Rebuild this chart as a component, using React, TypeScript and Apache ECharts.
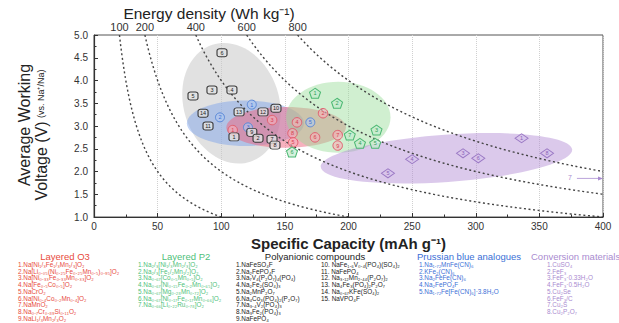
import React, { useEffect, useRef } from 'react';
import * as echarts from 'echarts';

// iso-energy guide levels (Wh/kg)
const energyLevels = [100, 200, 400, 600, 800];

// shaded regions
const regionColors = ['rgba(200,200,200,0.55)', 'rgba(120,160,235,0.45)', 'rgba(240,100,125,0.5)', 'rgba(150,220,150,0.45)', 'rgba(175,135,210,0.45)'];
const regionC = [108, 119, 151, 192, 277];
const regionV = [3.5, 3.06, 2.97, 3.19, 2.29];
const regionHalfC = [37.5, 46, 47, 41, 99];
const regionHalfV = [1.35, 0.5, 0.45, 0.78, 0.52];
const regionTilt = [18, 0, 0, 0, 4];

// Polyanionic compounds
const polyLabels = ['6', '3', '4', '5', '14', '11', '13', '12', '10', '1', '9', '2', '7', '8'];
const polyC = [100.6, 92.7, 108.4, 77.8, 85.7, 89.6, 114, 132.8, 143, 110, 124, 128.9, 139.9, 142.2];
const polyV = [4.61, 3.79, 3.79, 3.66, 3.28, 3.0, 3.31, 3.31, 3.39, 2.76, 2.86, 2.73, 2.71, 2.58];

// Prussian blue analogues
const pbLabels = ['2', '1', '3', '5'];
const pbC = [99, 124, 121, 170];
const pbV = [3.19, 3.47, 2.97, 3.08];

// Layered O3
const o3Labels = ['1', '3', '4', '2', '8', '6', '7', '5', '9'];
const o3C = [109, 140, 159.5, 180, 156, 173.7, 191.5, 156.5, 191.5];
const o3V = [2.91, 3.13, 3.08, 3.28, 2.84, 2.75, 2.8, 2.64, 2.57];

// Layered P2
const p2Labels = ['1', '2', '3', '4', '5', '6', '7'];
const p2C = [173.7, 191, 222, 209, 221, 155.6, 201];
const p2V = [3.72, 3.5, 2.91, 2.62, 2.62, 2.43, 2.8];

// Conversion materials
const convLabels = ['1', '3', '6', '4', '5', '8'];
const convC = [336, 290, 302, 250, 231, 356];
const convV = [2.73, 2.4, 2.29, 2.27, 1.96, 2.4];
const offChartLabel = ['7'];
const offChartC = [374];
const offChartV = [1.87];

// legend text
const o3Items = ['1.Na[Ni₁/₃Fe₁/₃Mn₁/₃]O₂', '2.Na[Li₀.₀₅(Ni₀.₂₅Fe₀.₂₅Mn₀.₅)₀.₉₅]O₂', '3.Na[Ni₀.₃₃Fe₀.₃₃Mn₀.₃₃]O₂', '4.Na[Fe₀.₅Co₀.₅]O₂', '5.NaCrO₂', '6.Na[Ni₀.₄Co₀.₂Mn₀.₄]O₂', '7.NaMnO₂', '8.Na₀.₇Cr₀.₈₉Si₀.₁₁O₂', '9.NaLi₁/₃Mn₂/₃O₂'];
const p2Items = ['1.Na₂/₃[Ni₁/₃Mn₂/₃]O₂', '2.Na₂/₃[Fe₁/₂Mn₁/₂]O₂', '3.Na₀.₆₇[Co₀.₅Mn₀.₅]O₂', '4.Na₀.₆₇[Ni₀.₁₅Fe₀.₂Mn₀.₆₅]O₂', '5.Na₀.₆₇[Mg₀.₂₈Mn₀.₇₂]O₂', '6.Na₀.₆₇[Ni₀.₁₇Fe₀.₁₇Mn₀.₆₆]O₂', '7.Na₀.₆₆[Li₀.₂₂Ru₀.₇₈]O₂'];
const polyItemsA = ['1.NaFeSO₄F', '2.Na₂FePO₄F', '3.Na₇V₄(P₂O₇)₄(PO₄)', '4.Na₂Fe₂(SO₄)₃', '5.Na₂MnP₂O₇', '6.Na₄Co₃(PO₄)₂(P₂O₇)', '7.Na₃.₄V₂(PO₄)₃', '8.Na₃Fe₂(PO₄)₃', '9.NaFePO₄'];
const polyItemsB = ['10. NaFe₁.₆V₀.₄(PO₄)(SO₄)₂', '11. NaFePO₄', '12. Na₃.₁₂Mn₂.₄₄(P₂O₇)₂', '13. Na₄Fe₃(PO₄)₂P₂O₇', '14. Na₀.₆₇KFe(SO₄)₂', '15. NaVPO₄F'];
const pbItems = ['1.Na₁.₇₂MnFe(CN)₆', '2.KFe₂(CN)₆', '3.Na₂FeFe(CN)₆', '4.Na₂FePO₄F', '5.Na₁.₇₂Fe[Fe(CN)₆]·3.8H₂O'];
const convItems = ['1.CuSO₄', '2.FeF₃', '3.FeF₃·0.33H₂O', '4.FeF₃·0.5H₂O', '5.Cu₂Se', '6.FeF₃/C', '7.Cu₂S', '8.Cu₂P₂O₇'];

const FONT = 'Liberation Sans, Arial, sans-serif';
const NARROW = 'Liberation Sans Narrow, Arial Narrow, Liberation Sans, sans-serif';
const PENTAGON = 'path://M10,0 L19.5,6.9 L15.9,18 L4.1,18 L0.5,6.9 Z';

function scatter(labels: string[], cs: number[], vs: number[], symbol: string, size: any, fill: string, border: string, text: string, z: number) {
  return {
    type: 'scatter',
    data: cs.map((c, i) => [c, vs[i], labels[i]]),
    symbol,
    symbolSize: size,
    itemStyle: { color: fill, borderColor: border, borderWidth: 1, opacity: 1 },
    label: { show: true, position: 'inside', formatter: (p: any) => p.data[2], fontSize: 5.5, color: text, fontFamily: FONT },
    z,
    silent: true,
  };
}

function legendColumn(items: string[], x: number, y0: number, color: string) {
  return items.map((t, i) => ({
    type: 'text',
    x,
    y: y0 + i * 6.7,
    silent: true,
    style: { text: t, fill: color, fontSize: 6.4, fontFamily: FONT, align: 'left', verticalAlign: 'middle' },
  }));
}

function header(text: string, x: number, align: string, color: string) {
  return {
    type: 'text', x, y: 256, silent: true,
    style: { text, fill: color, fontSize: 9.5, fontFamily: FONT, align, verticalAlign: 'middle' },
  };
}

export default function App() {
  const ref = useRef<HTMLDivElement>(null);
  useEffect(() => {
    const chart = echarts.init(ref.current!, null, { renderer: 'svg' });
    const option: any = {
      animation: false,
      backgroundColor: '#ffffff',
      grid: { left: 94, right: 16, top: 35, bottom: 106, show: true, borderColor: '#555', borderWidth: 1, backgroundColor: 'transparent' },
      xAxis: [
        {
          type: 'value', min: 0, max: 400, interval: 50, position: 'bottom',
          axisLine: { show: true, lineStyle: { color: '#333', width: 1.2 } },
          axisTick: { inside: true, length: 4, lineStyle: { color: '#333' } },
          minorTick: { show: true, splitNumber: 2, length: 2.5, lineStyle: { color: '#333' } },
          splitLine: { show: true, lineStyle: { color: '#d0d0d0', type: 'dotted', width: 1 } },
          axisLabel: { fontSize: 10, color: '#333', fontFamily: FONT, margin: 4 },
          name: 'Specific Capacity (mAh g⁻¹)', nameLocation: 'middle', nameGap: 14,
          nameTextStyle: { fontSize: 15, fontWeight: 'bold', color: '#222', fontFamily: FONT },
        },
        {
          type: 'value', min: 0, max: 400, interval: 20, position: 'top',
          axisLine: { show: false }, axisTick: { show: false }, splitLine: { show: false },
          axisLabel: { fontSize: 11, color: '#333', fontFamily: FONT, margin: 3,
            formatter: (v: number) => (energyLevels.includes(Math.round(v * 5)) ? String(Math.round(v * 5)) : '') },
        },
      ],
      yAxis: {
        type: 'value', min: 1, max: 5, interval: 0.5,
        axisLine: { show: true, lineStyle: { color: '#333', width: 1.2 } },
        axisTick: { inside: true, length: 4, lineStyle: { color: '#333' } },
        minorTick: { show: true, splitNumber: 2, length: 2.5, lineStyle: { color: '#333' } },
        splitLine: { show: false },
        axisLabel: { fontSize: 10, color: '#333', fontFamily: FONT, margin: 6, formatter: (v: number) => v.toFixed(1) },
      },
      series: [
        {
          type: 'custom', silent: true, z: 1, clip: true,
          data: regionC.map((c, i) => [c, regionV[i], regionHalfC[i], regionHalfV[i], regionTilt[i]]),
          renderItem: (params: any, api: any) => {
            const i = params.dataIndex;
            const p = api.coord([api.value(0), api.value(1)]);
            const s = api.size([api.value(2), api.value(3)]);
            return {
              type: 'group', x: p[0], y: p[1], rotation: (api.value(4) * Math.PI) / 180,
              children: [{ type: 'ellipse', shape: { cx: 0, cy: 0, rx: s[0], ry: s[1] }, style: { fill: regionColors[i] } }],
            };
          },
        },
        {
          type: 'custom', silent: true, z: 2, clip: true,
          data: energyLevels.map((e) => [e / 5, 5, e]),
          renderItem: (params: any, api: any) => {
            const e = api.value(2);
            const pts: number[][] = [];
            for (let c = e / 5; c <= 400.001; c += 1) {
              const v = e / c;
              if (v < 1) { pts.push(api.coord([e, 1])); break; }
              pts.push(api.coord([c, v]));
            }
            return { type: 'polyline', shape: { points: pts }, style: { stroke: '#444', lineWidth: 1.4, lineDash: [2, 2.6], fill: null } };
          },
        },
        {
          type: 'custom', silent: true, z: 3, clip: false,
          data: offChartC.map((c, i) => [c, offChartV[i], offChartLabel[i]]),
          renderItem: (params: any, api: any) => {
            const p = api.coord([api.value(0), api.value(1)]);
            const end = api.coord([400, api.value(1)]);
            return {
              type: 'group', children: [
                { type: 'text', x: p[0], y: p[1], style: { text: offChartLabel[params.dataIndex], fill: '#a98bd0', fontSize: 7, fontFamily: FONT, align: 'center', verticalAlign: 'middle' } },
                { type: 'line', shape: { x1: p[0] + 7, y1: p[1] + 1, x2: end[0] - 4, y2: end[1] + 1 }, style: { stroke: '#a98bd0', lineWidth: 0.8 } },
                { type: 'polygon', shape: { points: [[end[0], end[1] + 1], [end[0] - 5, end[1] - 1], [end[0] - 5, end[1] + 3]] }, style: { fill: '#a98bd0' } },
              ],
            };
          },
        },
        scatter(polyLabels, polyC, polyV, 'roundRect', [10, 8], 'rgba(225,225,225,0.8)', '#3a3a3a', '#222', 5),
        scatter(pbLabels, pbC, pbV, 'circle', 9, 'rgba(175,200,240,0.6)', '#5a88d8', '#3b6fd6', 4),
        scatter(o3Labels, o3C, o3V, 'circle', 9.5, 'rgba(248,175,185,0.6)', '#e0606f', '#d8404f', 4),
        scatter(p2Labels, p2C, p2V, PENTAGON, [11, 10], 'rgba(195,235,205,0.7)', '#4bb872', '#2f9e58', 4),
        scatter(convLabels, convC, convV, 'diamond', [13, 9], 'rgba(215,195,235,0.7)', '#9a78c4', '#8a62b8', 4),
      ],
      graphic: [
        { type: 'text', x: 209, y: 13, silent: true, style: { text: 'Energy density (Wh kg⁻¹)', fill: '#222', fontSize: 15.5, fontFamily: FONT, align: 'center', verticalAlign: 'middle' } },
        { type: 'text', x: 24, y: 125, rotation: Math.PI / 2, silent: true, style: { text: 'Average Working', fill: '#222', fontSize: 16, fontFamily: NARROW, align: 'center', verticalAlign: 'middle' } },
        { type: 'text', x: 41, y: 135, rotation: Math.PI / 2, silent: true, style: { text: '{a|Voltage (V)} {b|(vs. Na⁺/Na)}', rich: { a: { fontSize: 16, fill: '#222', fontFamily: NARROW }, b: { fontSize: 9, fill: '#222', fontFamily: NARROW } }, align: 'center', verticalAlign: 'middle' } },
        header('Layered O3', 65, 'center', '#e84a3c'),
        header('Layered P2', 186, 'center', '#4fbf7a'),
        header('Polyanionic compounds', 315, 'center', '#222'),
        header('Prussian blue analogues', 417, 'left', '#3b6fd6'),
        header('Conversion materials', 531, 'left', '#a98bd0'),
        ...legendColumn(o3Items, 18, 264.5, '#e84a3c'),
        ...legendColumn(p2Items, 138, 264.5, '#4fbf7a'),
        ...legendColumn(polyItemsA, 236, 264.5, '#222'),
        ...legendColumn(polyItemsB, 321, 264.5, '#222'),
        ...legendColumn(pbItems, 419, 264.5, '#3b6fd6'),
        ...legendColumn(convItems, 547, 264.5, '#a98bd0'),
      ],
    };
    chart.setOption(option);
    return () => chart.dispose();
  }, []);
  return <div ref={ref} style={{ position: 'fixed', left: 0, top: 0, width: 619, height: 323 }} />;
}
